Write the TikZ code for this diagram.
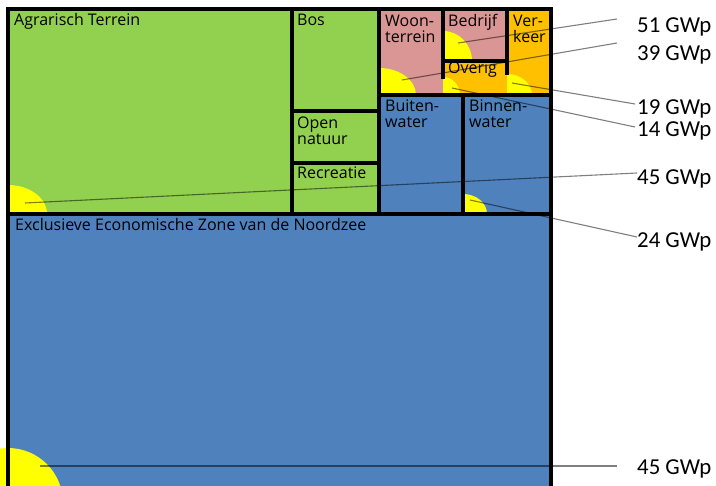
\documentclass[tikz,border=0pt]{standalone}
\usepackage{fontspec}
\setmainfont{Open Sans}
\newfontfamily\labfont{Carlito}
\definecolor{agrgreen}{HTML}{92D050}
\definecolor{seablue}{HTML}{4F81BD}
\definecolor{woonpink}{HTML}{D99694}
\definecolor{verkorange}{HTML}{FFC000}
\definecolor{pvyellow}{HTML}{FFFF00}
\begin{document}
\begin{tikzpicture}[x=1pt,y=-1pt,
  border/.style={line width=3.2pt,black,line cap=rect},
  boxtext/.style={anchor=base west,inner sep=0pt,align=left,font=\fontsize{16}{16}\selectfont},
  gwlabel/.style={anchor=base west,inner sep=0pt,font=\labfont\fontsize{22.8}{24}\selectfont},
  leader/.style={line width=1.1pt,black,opacity=0.5}]
\clip (0,0) rectangle (716,486);
\fill[white] (0,0) rectangle (716,486);
% area fills
\fill[agrgreen] (8,9) rectangle (379,214);
\fill[woonpink] (379,9) rectangle (507,95);
\fill[verkorange] (507,9) rectangle (551,95);
\fill[verkorange] (443,61) rectangle (551,95);
\fill[seablue] (379,95) rectangle (551,214);
\fill[seablue] (8,214) rectangle (551,520);
% yellow quarter discs
\fill[pvyellow] (8,214) -- (47,214) arc[start angle=0,end angle=90,x radius=39pt,y radius=29pt] -- cycle;
\fill[pvyellow] (379,95) -- (416,95) arc[start angle=0,end angle=90,x radius=37pt,y radius=27pt] -- cycle;
\fill[pvyellow] (443,61) -- (472,61) arc[start angle=0,end angle=90,x radius=29pt,y radius=30pt] -- cycle;
\fill[pvyellow] (443,95) -- (460,95) arc[start angle=0,end angle=90,x radius=17pt,y radius=18pt] -- cycle;
\fill[pvyellow] (507,95) -- (532,95) arc[start angle=0,end angle=90,x radius=25pt,y radius=21pt] -- cycle;
\fill[pvyellow] (463,214) -- (487,214) arc[start angle=0,end angle=90,x radius=24pt,y radius=20pt] -- cycle;
\fill[pvyellow] (8,503) circle[radius=55pt];
% borders
\draw[border] (8,9) rectangle (551,520);
\draw[border] (8,214) -- (551,214);
\draw[border] (292,9) -- (292,214);
\draw[border] (379,9) -- (379,214);
\draw[border] (292,111) -- (379,111);
\draw[border] (292,163) -- (379,163);
\draw[border] (379,95) -- (551,95);
\draw[border] (443,9) -- (443,77);
\draw[border] (443,61) -- (507,61);
\draw[border] (507,9) -- (507,73);
\draw[border] (463,95) -- (463,214);
% box texts (base = baseline of last line)
\node[boxtext] (agr) at (14,26) {Agrarisch Terrein};
\node[boxtext] (bos) at (297,26) {Bos};
\node[boxtext] (open) at (297,145) {Open\\natuur};
\node[boxtext] (recr) at (297,179) {Recreatie};
\node[boxtext] (woon) at (385,43) {Woon-\\terrein};
\node[boxtext] (bedr) at (448,27) {Bedrijf};
\node[boxtext] (verk) at (513,43) {Ver-\\keer};
\node[boxtext] (overig) at (448,74) {Overig};
\node[boxtext] (buiten) at (385,128) {Buiten-\\water};
\node[boxtext] (binnen) at (469,128) {Binnen-\\water};
\node[boxtext] (eez) at (15,231) {Exclusieve Economische Zone van de Noordzee};
% GWp labels
\node[gwlabel] (l51) at (637,33) {51 GWp};
\node[gwlabel] (l39) at (637,61) {39 GWp};
\node[gwlabel] (l19) at (637,115) {19 GWp};
\node[gwlabel] (l14) at (637,137) {14 GWp};
\node[gwlabel] (l45a) at (637,185) {45 GWp};
\node[gwlabel] (l24) at (637,248) {24 GWp};
\node[gwlabel] (l45b) at (637,475) {45 GWp};
% leader start / end points
\coordinate (sBedr) at (458,43);   \coordinate (e51) at (617,19);
\coordinate (sWoon) at (402,80);   \coordinate (e39) at (617,43);
\coordinate (sVerk) at (512,83);   \coordinate (e19) at (635,104);
\coordinate (sOver) at (452,88);   \coordinate (e14) at (635,127);
\coordinate (sAgr) at (25,203);    \coordinate (e45a) at (637,173);
\coordinate (sBinn) at (470,200);  \coordinate (e24) at (637,237);
\coordinate (sEez) at (40,466);    \coordinate (e45b) at (617,466);
\draw[leader] (sBedr) -- (e51);
\draw[leader] (sWoon) -- (e39);
\draw[leader] (sVerk) -- (e19);
\draw[leader] (sOver) -- (e14);
\draw[leader] (sAgr) -- (e45a);
\draw[leader] (sBinn) -- (e24);
\draw[leader] (sEez) -- (e45b);
\end{tikzpicture}
\end{document}
